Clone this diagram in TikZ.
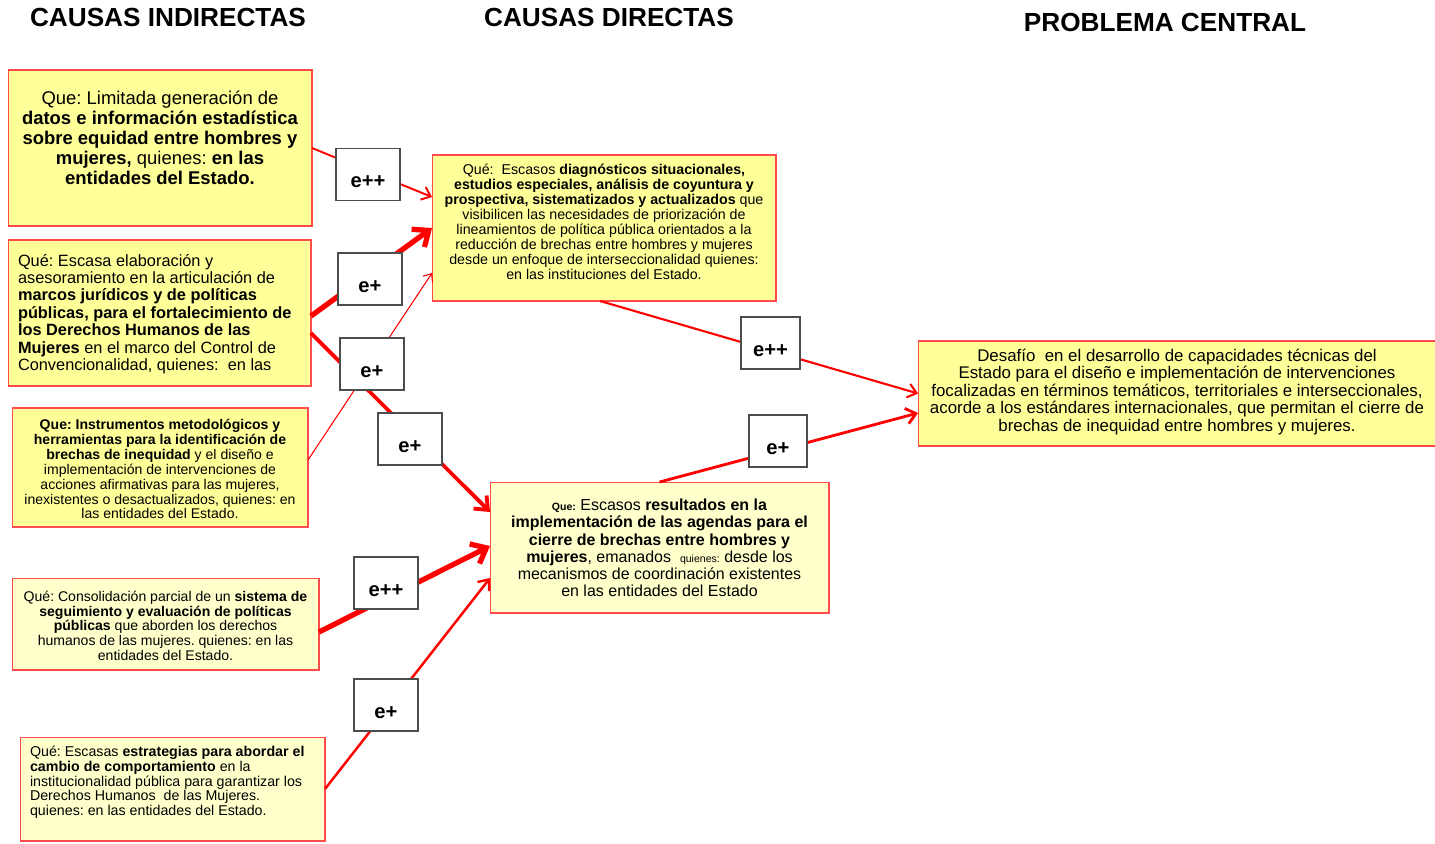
\documentclass[tikz,border=0pt]{standalone}
\usepackage{fontspec}
\setmainfont{Liberation Sans}
\usepackage{tikz}
\usetikzlibrary{calc,arrows.meta,positioning}
\definecolor{amarillo}{HTML}{FFFF99}
\definecolor{crema}{HTML}{FFFFCC}
\definecolor{borde}{HTML}{FF4B4B}
\newcommand{\caja}[3]{\parbox[c][#1][t]{#2}{#3}}
\newcommand{\fs}[2]{\fontsize{#1pt}{#2pt}\selectfont}
\frenchspacing

\begin{document}
\begin{tikzpicture}[x=0.02cm, y=-0.02cm,
    cajon/.style={draw=borde, line width=0.6pt, inner xsep=0.2cm, inner ysep=0pt, outer sep=0pt},
    etiq/.style={draw=gray!60!black, fill=white, line width=0.6pt, minimum width=1.28cm,
      minimum height=1.04cm, inner sep=0pt, font=\bfseries\fs{11.5}{12}, text height=15pt, text depth=0pt},
    flecha/.style={draw=red, -{Straight Barb[length=3pt 1.5, width=5pt 2.5]}},
    titulo/.style={font=\bfseries\fs{14.9}{16}, inner sep=0pt}]
  \useasboundingbox (0,0) rectangle (1435,843);

  % Titles
  \node[titulo] (TI) at (168,17.5) {CAUSAS INDIRECTAS};
  \node[titulo] (TD) at (609,17.5) {CAUSAS DIRECTAS};
  \node[titulo] (TP) at (1165,22) {PROBLEMA CENTRAL};

  % Indirect causes
  \node[cajon, fill=amarillo] (I1) at (160,148) {\caja{3.12cm}{5.68cm}{\vspace*{0.42cm}\centering\fs{10.5}{11.3}
    Que: Limitada generación de\\
    \textbf{datos e información estadística}\\
    \textbf{sobre equidad entre hombres y}\\
    \textbf{mujeres,} quienes: \textbf{en las}\\
    \textbf{entidades del Estado.}}};
  \node[cajon, fill=amarillo] (I2) at (159.5,313) {\caja{2.92cm}{5.66cm}{\vspace*{0.28cm}\raggedright\fs{9.3}{9.9}
    Qué: Escasa elaboración y\\
    asesoramiento en la articulación de\\
    \textbf{marcos jurídicos y de políticas}\\
    \textbf{públicas, para el fortalecimiento de}\\
    \textbf{los Derechos Humanos de las}\\
    \textbf{Mujeres} en el marco del Control de\\
    Convencionalidad, quienes:~ en las}};
  \node[cajon, fill=amarillo] (I3) at (160,467.5) {\caja{2.38cm}{5.52cm}{\vspace*{0.22cm}\centering\fs{8}{8.5}
    \textbf{Que: Instrumentos metodológicos  y}\\
    \textbf{herramientas para la identificación de}\\
    \textbf{brechas de inequidad} y el diseño e\\
    implementación de intervenciones de\\
    acciones afirmativas para las mujeres,\\
    inexistentes o desactualizados, quienes: en\\
    las entidades del Estado.}};
  \node[cajon, fill=crema] (I4) at (165.5,624) {\caja{1.84cm}{5.74cm}{\vspace*{0.26cm}\centering\fs{8}{8.4}
    Qué: Consolidación parcial de un \textbf{sistema de}\\
    \textbf{seguimiento y evaluación de políticas}\\
    \textbf{públicas} que aborden los derechos\\
    humanos de las mujeres. quienes: en las\\
    entidades del Estado.}};
  \node[cajon, fill=crema] (I5) at (172.5,789) {\caja{2.08cm}{5.70cm}{\vspace*{0.18cm}\raggedright\fs{8.1}{8.4}
    Qué: Escasas \textbf{estrategias para abordar el}\\
    \textbf{cambio de comportamiento} en la\\
    institucionalidad pública para garantizar los\\
    Derechos Humanos~ de las Mujeres.\\
    quienes: en las entidades del Estado.}};

  % Direct causes
  \node[cajon, fill=amarillo] (D1) at (604,228) {\caja{2.92cm}{6.48cm}{\vspace*{0.18cm}\centering\fs{8.1}{8.5}
    Qué:~ Escasos \textbf{diagnósticos situacionales,}\\
    \textbf{estudios especiales, análisis de coyuntura y}\\
    \textbf{prospectiva, sistematizados y actualizados} que\\
    visibilicen las necesidades de priorización de\\
    lineamientos de política pública orientados a la\\
    reducción de brechas entre hombres y mujeres\\
    desde un enfoque de interseccionalidad quienes:\\
    en las instituciones del Estado.}};
  \node[cajon, fill=crema] (D2) at (659.5,547.5) {\caja{2.62cm}{6.38cm}{\vspace*{0.34cm}\centering\fs{9.1}{9.8}
    {\fs{6}{7}\textbf{Que:}} Escasos \textbf{resultados en la}\\
    \textbf{implementación de las agendas para el}\\
    \textbf{cierre de brechas entre hombres y}\\
    \textbf{mujeres}, emanados~ {\fs{6}{7}quienes:} desde los\\
    mecanismos de coordinación existentes\\
    en las entidades del Estado}};

  % Central problem
  \node[cajon, fill=amarillo] (P) at (1177,393.5) {\caja{2.1cm}{9.96cm}{\vspace*{0.16cm}\centering\fs{9.6}{9.9}
    Desafío~ en el desarrollo de capacidades técnicas del\\
    Estado para el diseño e implementación de intervenciones\\
    focalizadas en términos temáticos, territoriales e interseccionales,\\
    acorde a los estándares internacionales, que permitan el cierre de\\
    brechas de inequidad entre hombres y mujeres.}};

  % Connectors (labels are drawn on top afterwards)
  \draw[flecha, line width=1.1pt] (I1.east) -- ($(D1.west)+(0,-31)$);
  \draw[flecha, line width=3pt] ($(I2.east)+(0,3)$) -- (D1.west);
  \draw[flecha, line width=2.2pt] ($(I2.east)+(0,20)$) -- ($(D2.west)+(0,-35.5)$);
  \draw[flecha, line width=0.6pt] ($(I3.east)+(0,-7.5)$) -- ($(D1.west)+(0,45)$);
  \draw[flecha, line width=3pt] ($(I4.east)+(0,8)$) -- ($(D2.west)+(0,-1.5)$);
  \draw[flecha, line width=1.4pt] (I5.east) -- ($(D2.west)+(0,30.5)$);
  \draw[flecha, line width=1.2pt] ($(D1.south)+(-4,0)$) -- (P.west);
  \draw[flecha, line width=1.6pt] (D2.north) -- ($(P.west)+(0,19.5)$);

  % Intensity labels
  \node[etiq] (E1) at (368,174.5) {e++};
  \node[etiq] (E2) at (370,279) {e+};
  \node[etiq] (E3) at (372,364) {e+};
  \node[etiq] (E4) at (410,439) {e+};
  \node[etiq] (E5) at (386,583) {e++};
  \node[etiq] (E6) at (386,705) {e+};
  \node[etiq, minimum width=1.18cm] (E7) at (770.5,343) {e++};
  \node[etiq, minimum width=1.16cm] (E8) at (778,441) {e+};
\end{tikzpicture}
\end{document}
